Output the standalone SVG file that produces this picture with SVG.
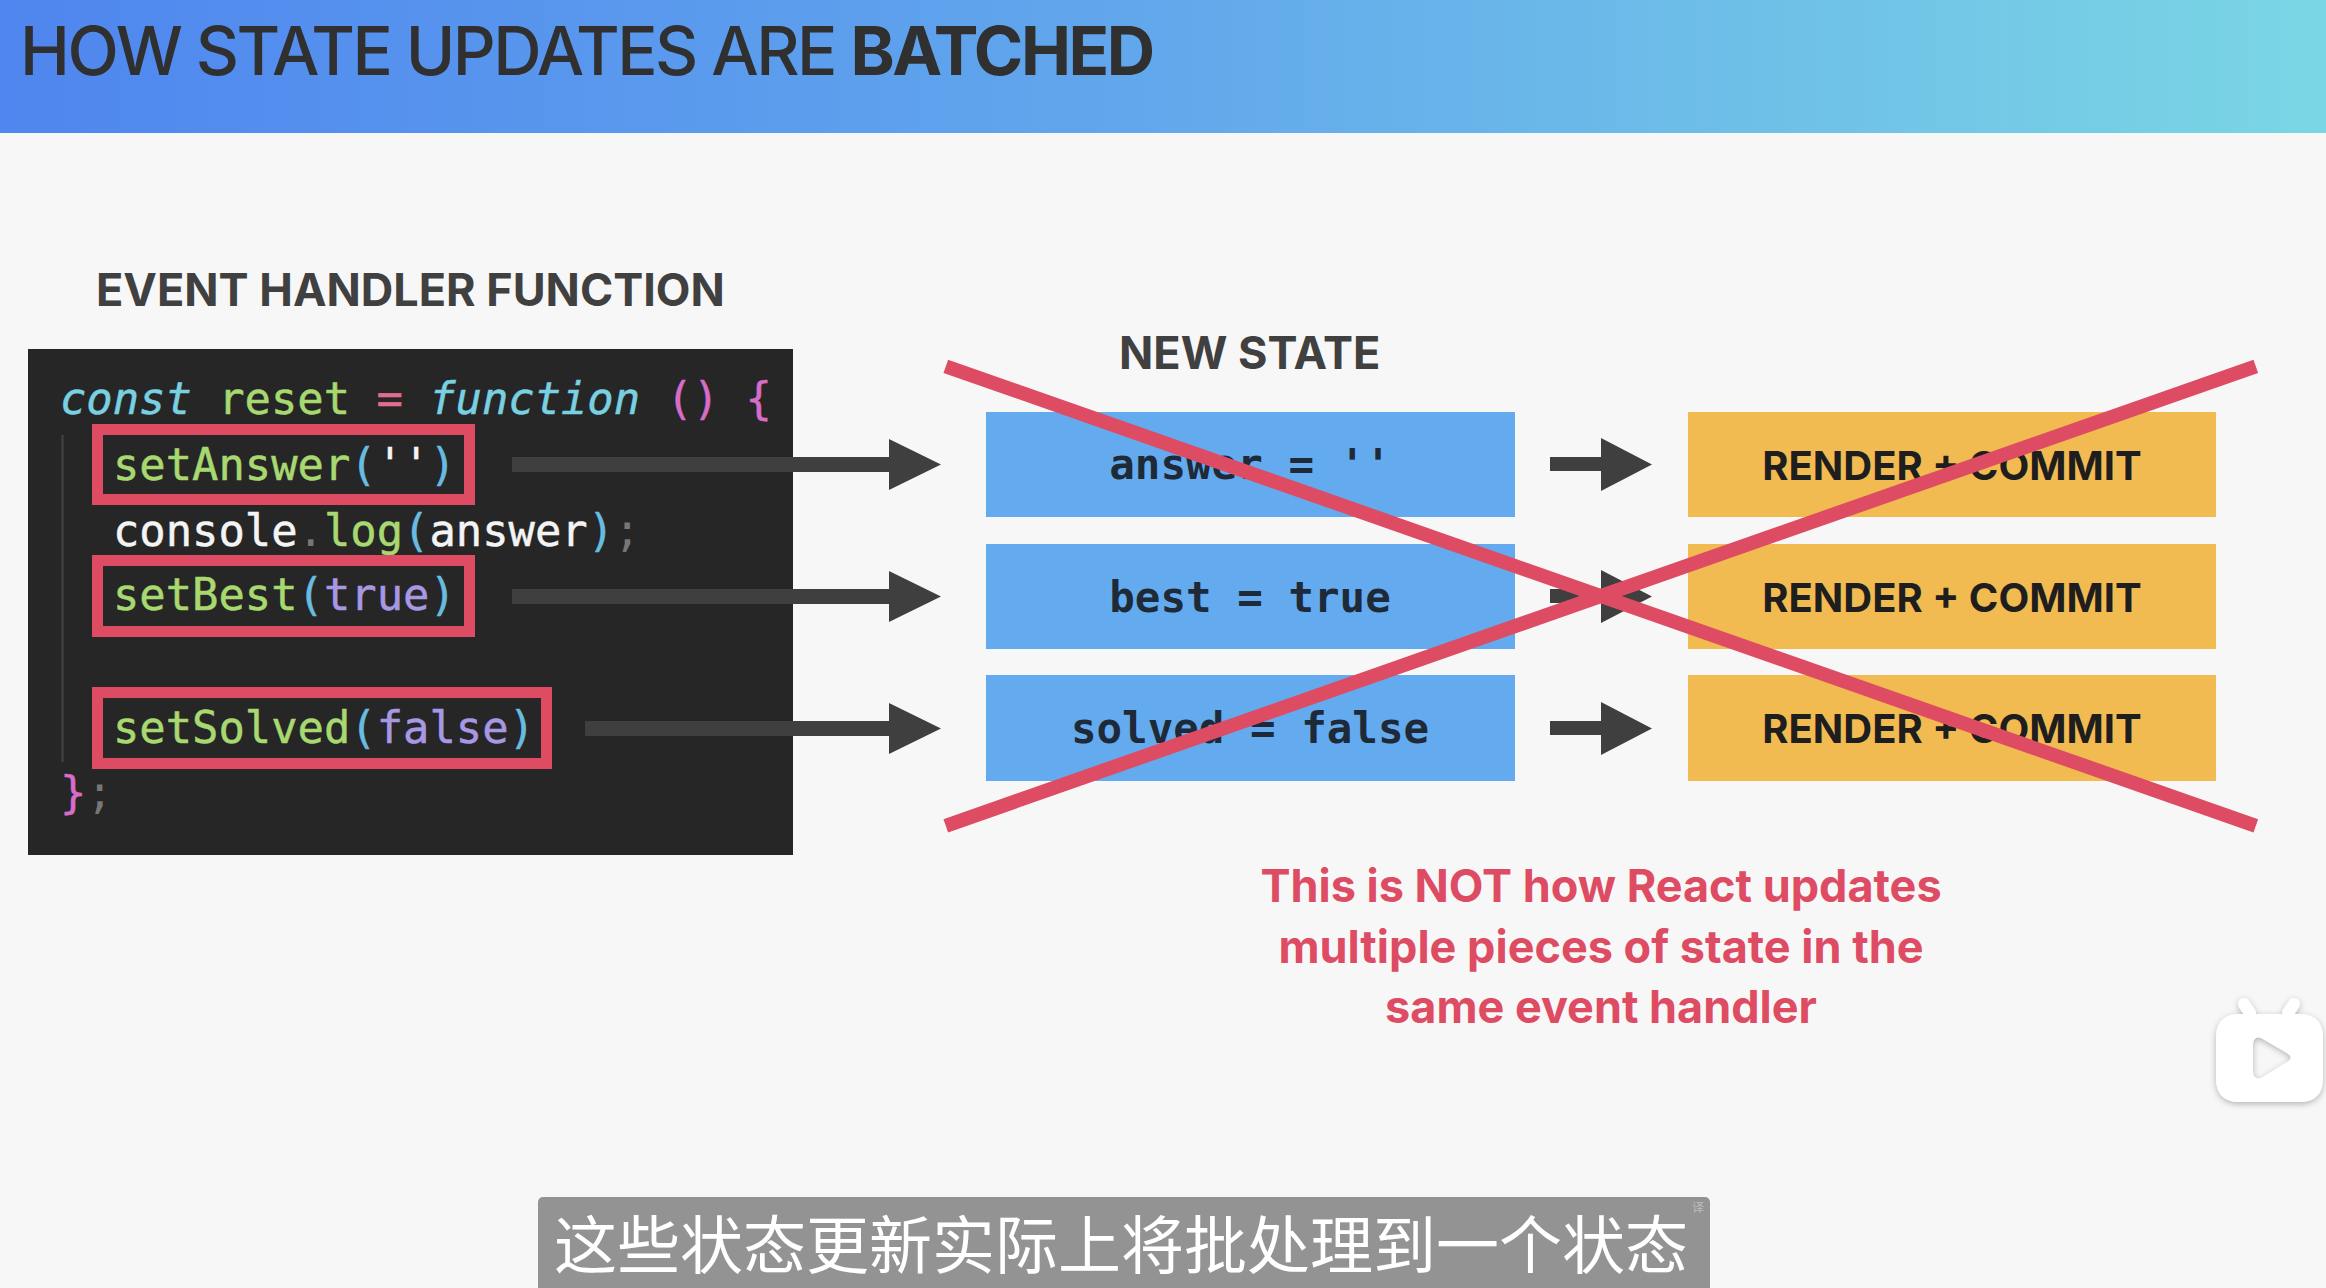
<svg xmlns="http://www.w3.org/2000/svg" width="2326" height="1288" viewBox="0 0 2326 1288">
<style>
.sans{font-family:Inter,"Liberation Sans",sans-serif}
.h{font-size:45px;font-weight:700;fill:#404040}
.code{font-family:"DejaVu Sans Mono","Liberation Mono",monospace;font-size:43.800px;stroke-width:0.5px}
.g{fill:#a8d870;stroke:#a8d870}.c{fill:#78d0e0;stroke:#78d0e0}.p{fill:#d86cc8;stroke:#d86cc8}.b{fill:#68bce0;stroke:#68bce0}.w{fill:#f4f4f4;stroke:#f4f4f4}.v{fill:#a898e4;stroke:#a898e4}.d{fill:#777}.k{fill:#e06c90;stroke:#e06c90}
.hl{fill:none;stroke:#de4c64;stroke-width:11}
.st{font-family:"DejaVu Sans Mono","Liberation Mono",monospace;font-size:42.500px;font-weight:700;fill:#1e2a38;text-anchor:middle}
.blue{fill:#64aaee}.org{fill:#f2bb52}
.rc{font-family:Inter,"Liberation Sans",sans-serif;font-size:40px;font-weight:700;fill:#1e1e1e;text-anchor:middle}
.arrow{fill:#3f3f3f}
.x{stroke:#de4c64;stroke-width:14;fill:none}
.note{font-family:Inter,"Liberation Sans",sans-serif;font-size:45px;font-weight:700;fill:#de4c64;text-anchor:middle}
</style>
<defs>
<linearGradient id="hdr" x1="0" y1="0" x2="1" y2="0"><stop offset="0" stop-color="#4f86ef"/><stop offset="0.5" stop-color="#62a8ec"/><stop offset="1" stop-color="#7ad6e4"/></linearGradient>
<filter id="sh" x="-20%" y="-20%" width="140%" height="140%"><feDropShadow dx="0" dy="2" stdDeviation="3" flood-color="#000" flood-opacity="0.28"/></filter>
</defs>
<rect width="2326" height="1288" fill="#f7f7f7"/>
<g id="header">
<rect width="2326" height="133" fill="url(#hdr)"/>
<text class="sans" x="20" y="75" font-size="67" font-weight="500" fill="#303030" letter-spacing="-2.500">HOW STATE UPDATES ARE <tspan font-weight="700">BATCHED</tspan></text>
</g>
<g id="event-handler">
<text class="sans h" x="96" y="306">EVENT HANDLER FUNCTION</text>
<rect x="28" y="349" width="765" height="506" fill="#262626"/>
<line x1="62.500" y1="435" x2="62.500" y2="762" stroke="#444" stroke-width="2"/>
<text class="code" x="60" y="414"><tspan class="c" font-style="italic">const</tspan><tspan class="g"> reset </tspan><tspan class="k">=</tspan><tspan class="c" font-style="italic"> function </tspan><tspan class="p">() {</tspan></text>
<rect class="hl" x="97.500" y="429.500" width="372" height="70"/>
<text class="code" x="113" y="480"><tspan class="g">setAnswer</tspan><tspan class="b">(</tspan><tspan class="w">''</tspan><tspan class="b">)</tspan></text>
<text class="code" x="113" y="546"><tspan class="w">console</tspan><tspan class="d">.</tspan><tspan class="g">log</tspan><tspan class="b">(</tspan><tspan class="w">answer</tspan><tspan class="b">)</tspan><tspan class="d">;</tspan></text>
<rect class="hl" x="97.500" y="560.500" width="372" height="71"/>
<text class="code" x="113" y="610"><tspan class="g">setBest</tspan><tspan class="b">(</tspan><tspan class="v">true</tspan><tspan class="b">)</tspan></text>
<rect class="hl" x="97.500" y="692.500" width="449" height="71"/>
<text class="code" x="113" y="743"><tspan class="g">setSolved</tspan><tspan class="b">(</tspan><tspan class="v">false</tspan><tspan class="b">)</tspan></text>
<text class="code" x="60" y="808"><tspan class="p">}</tspan><tspan class="d">;</tspan></text>
</g>
<text id="new-state-title" class="sans h" x="1119" y="369">NEW STATE</text>
<g id="state-answer"><rect class="blue" x="986" y="412" width="529" height="105"/><text class="st" x="1250" y="479">answer = ''</text></g>
<g id="state-best"><rect class="blue" x="986" y="544" width="529" height="105"/><text class="st" x="1250" y="612">best = true</text></g>
<g id="state-solved"><rect class="blue" x="986" y="675" width="529" height="106"/><text class="st" x="1250" y="743">solved = false</text></g>
<g id="render-1"><rect class="org" x="1688" y="412" width="528" height="105"/><text class="rc" x="1952" y="480">RENDER + COMMIT</text></g>
<g id="render-2"><rect class="org" x="1688" y="544" width="528" height="105"/><text class="rc" x="1952" y="612">RENDER + COMMIT</text></g>
<g id="render-3"><rect class="org" x="1688" y="675" width="528" height="106"/><text class="rc" x="1952" y="743">RENDER + COMMIT</text></g>
<g id="connectors">
<path class="arrow" d="M512 457H889V439L941 464.500 889 490V472H512Z"/>
<path class="arrow" d="M512 589H889V571L941 596.500 889 622V604H512Z"/>
<path class="arrow" d="M585 721H889V703L941 728.500 889 754V736H585Z"/>
<path class="arrow" d="M1550 457H1601V438L1652 464.500 1601 491V471H1550Z"/>
<path class="arrow" d="M1550 589H1601V570L1652 596.500 1601 623V603H1550Z"/>
<path class="arrow" d="M1550 721H1601V702L1652 728.500 1601 755V735H1550Z"/>
</g>
<g id="cross">
<line class="x" x1="945.800" y1="366.300" x2="2255.800" y2="825.800"/>
<line class="x" x1="2255.800" y1="366.300" x2="945.800" y2="825.800"/>
</g>
<g id="note">
<text class="note" x="1601" y="902">This is NOT how React updates</text>
<text class="note" x="1601" y="963">multiple pieces of state in the</text>
<text class="note" x="1601" y="1023">same event handler</text>
</g>
<g id="tv-icon" filter="url(#sh)">
<path d="M2250 1013L2244 1004" stroke="#fff" stroke-width="12" stroke-linecap="round" fill="none"/>
<path d="M2288 1013L2294 1004" stroke="#fff" stroke-width="12" stroke-linecap="round" fill="none"/>
<path fill="#fff" fill-rule="evenodd" d="M2240 1014H2299C2315 1014 2323 1022 2323 1038V1078C2323 1094 2315 1102 2299 1102H2240C2224 1102 2216 1094 2216 1078V1038C2216 1022 2224 1014 2240 1014ZM2253 1044C2253 1038 2258 1036 2263 1039L2287 1053C2292 1056 2292 1059 2287 1062L2263 1077C2258 1080 2253 1078 2253 1072Z"/>
</g>
<g id="subtitle">
<rect x="538" y="1197" width="1172" height="100" rx="5" fill="#939393"/>
<text x="554" y="1268" font-family="'Noto Sans CJK SC',sans-serif" font-size="63" font-weight="400" fill="#fff">这些状态更新实际上将批处理到一个状态</text>
<text x="1698" y="1212" font-family="'Noto Sans CJK SC',sans-serif" font-size="12" fill="#bdbdbd" text-anchor="middle">译</text>
</g>
</svg>
